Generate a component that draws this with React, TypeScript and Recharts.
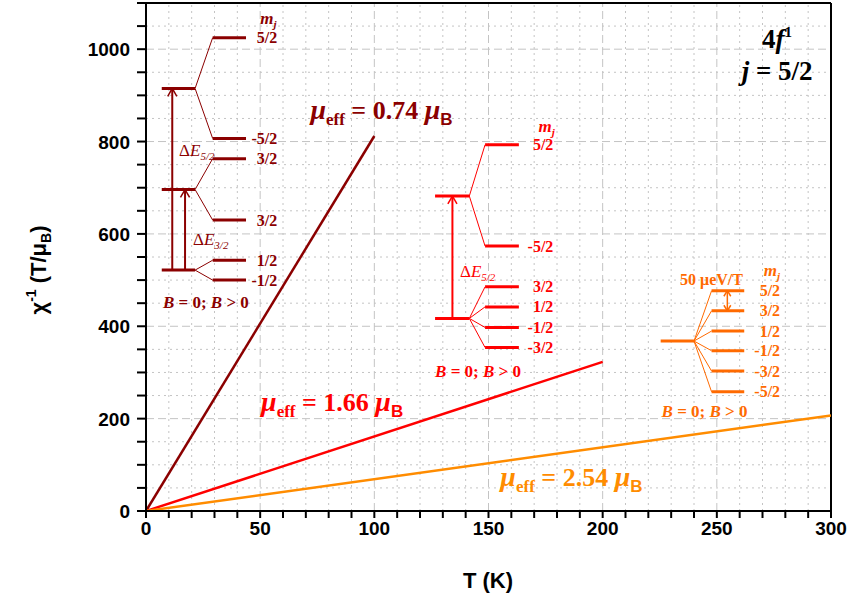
import React from 'react';
import { LineChart, Line, XAxis, YAxis, ReferenceLine, ReferenceDot } from 'recharts';

const DARK = '#8B0000';
const RED = '#FF0000';
const ORANGE_LINE = '#FF8C00';
const ORANGE = '#FF6A00';
const GRID = '#c4c4c4';
const SERIF = '"Liberation Serif", "Times New Roman", serif';
const SANS = '"Liberation Sans", Arial, sans-serif';

// ---- series (T in K, chi^-1 in T/muB) ----
const darkRedSeries = [{ T: 0, chi: 0 }, { T: 100, chi: 812 }];
const redSeries = [{ T: 0, chi: 0 }, { T: 200, chi: 323 }];
const orangeSeries = [{ T: 0, chi: 0 }, { T: 300, chi: 207 }];

// ---- ticks ----
const xMajorTicks = [0, 50, 100, 150, 200, 250, 300];
const xAllTicks = [0, 10, 20, 30, 40, 50, 60, 70, 80, 90, 100, 110, 120, 130, 140, 150, 160, 170, 180, 190, 200, 210, 220, 230, 240, 250, 260, 270, 280, 290, 300];
const yMajorTicks = [0, 200, 400, 600, 800, 1000];
const yAllTicks = [0, 50, 100, 150, 200, 250, 300, 350, 400, 450, 500, 550, 600, 650, 700, 750, 800, 850, 900, 950, 1000, 1050, 1100];
const xGridMajor = [50, 100, 150, 200, 250];
const xGridMinor = [10, 20, 30, 40, 60, 70, 80, 90, 110, 120, 130, 140, 160, 170, 180, 190, 210, 220, 230, 240, 260, 270, 280, 290];
const yGridMajor = [200, 400, 600, 800, 1000];
const yGridMinor = [50, 100, 150, 250, 300, 350, 450, 500, 550, 650, 700, 750, 850, 900, 950, 1050];

// ---- dark red level diagram ----
const dkBaseT = [6.9, 21.5];
const dkSplitT = [29.2, 43.8];
const dkBaseLevels = [915, 696, 521.6];
const dkSplitLevels = [1025, 806.6, 763, 630, 543, 500];
const dkSplitParents = [915, 915, 696, 696, 521.6, 521.6];
const dkSplitLabels = ['5/2', '-5/2', '3/2', '3/2', '1/2', '-1/2'];
const dkLabelT = 57.5;
const dkArrows = [{ t: 11.5, from: 521.6, to: 915 }, { t: 17.1, from: 521.6, to: 696 }];

// ---- red level diagram ----
const rdBaseT = [126.6, 141.6];
const rdSplitT = [148.5, 163.3];
const rdBaseLevels = [682, 417];
const rdSplitLevels = [793, 573.6, 485.5, 442, 397.5, 354];
const rdSplitParents = [682, 682, 417, 417, 417, 417];
const rdSplitLabels = ['5/2', '-5/2', '3/2', '1/2', '-1/2', '-3/2'];
const rdLabelT = 178.4;
const rdArrows = [{ t: 134.2, from: 417, to: 682 }];

// ---- orange level diagram ----
const orBaseT = [225.4, 240];
const orSplitT = [247.7, 262];
const orBaseLevels = [368];
const orSplitLevels = [477, 433.5, 389.6, 347, 303, 258];
const orSplitParents = [368, 368, 368, 368, 368, 368];
const orSplitLabels = ['5/2', '3/2', '1/2', '-1/2', '-3/2', '-5/2'];
const orLabelT = 277.7;
const orDoubleArrow = { t: 254.6, from: 433.5, to: 477 };

const seg = (key: string, x1: number, y1: number, x2: number, y2: number, color: string, w: number) => (
  <ReferenceLine
    key={key}
    segment={[{ x: x1, y: y1 }, { x: x2, y: y2 }]}
    stroke={color}
    strokeWidth={w}
    ifOverflow="visible"
  />
);

const textAt = (key: string, x: number, y: number, render: (cx: number, cy: number) => React.ReactElement) => (
  <ReferenceDot key={key} x={x} y={y} r={0} ifOverflow="visible" shape={(p: any) => render(p.cx, p.cy)} />
);

const arrowHead = (key: string, t: number, tip: number, dir: number, color: string, dx: number, dy: number) => [
  seg(key + 'a', t, tip, t - dx, tip - dir * dy, color, 1.5),
  seg(key + 'b', t, tip, t + dx, tip - dir * dy, color, 1.5),
];

const diagram = (
  id: string,
  color: string,
  baseT: number[],
  splitT: number[],
  base: number[],
  split: number[],
  parents: number[],
  labels: string[],
  labelT: number
) => {
  const out: React.ReactElement[] = [];
  base.forEach((v, i) => out.push(seg(`${id}b${i}`, baseT[0], v, baseT[1], v, color, 3)));
  split.forEach((v, i) => {
    out.push(seg(`${id}s${i}`, splitT[0], v, splitT[1], v, color, 3));
    out.push(seg(`${id}c${i}`, baseT[1], parents[i], splitT[0], v, color, 1));
    out.push(
      textAt(`${id}l${i}`, labelT, v, (cx, cy) => (
        <text x={cx} y={cy} dy={5.5} textAnchor="end" fill={color} fontFamily={SERIF} fontWeight="bold" fontSize={16}>
          {labels[i]}
        </text>
      ))
    );
  });
  return out;
};

const mjLabel = (key: string, t: number, v: number, color: string) =>
  textAt(key, t, v, (cx, cy) => (
    <text x={cx} y={cy} textAnchor="end" fill={color} fontFamily={SERIF} fontWeight="bold" fontStyle="italic" fontSize={17}>
      m<tspan fontSize={11} dy={4}>j</tspan>
    </text>
  ));

const bLabel = (key: string, t: number, v: number, color: string) =>
  textAt(key, t, v, (cx, cy) => (
    <text x={cx} y={cy} fill={color} fontFamily={SERIF} fontWeight="bold" fontSize={17}>
      <tspan fontStyle="italic">B</tspan> = 0; <tspan fontStyle="italic">B</tspan> &gt; 0
    </text>
  ));

const dELabel = (key: string, t: number, v: number, color: string, sub: string) =>
  textAt(key, t, v, (cx, cy) => (
    <text x={cx} y={cy} fill={color} fontFamily={SERIF} fontSize={17}>
      Δ<tspan fontStyle="italic">E</tspan>
      <tspan fontSize={11} dy={4} fontStyle="italic">{sub}</tspan>
    </text>
  ));

const muLabel = (key: string, t: number, v: number, color: string, val: string) =>
  textAt(key, t, v, (cx, cy) => (
    <text x={cx} y={cy} fill={color} fontFamily={SERIF} fontWeight="bold" fontSize={26}>
      <tspan fontStyle="italic" fontSize={28}>μ</tspan>
      <tspan fontSize={17} dy={6}>eff</tspan>
      <tspan dy={-6}>{` = ${val} `}</tspan>
      <tspan fontStyle="italic" fontSize={28}>μ</tspan>
      <tspan fontFamily={SANS} fontSize={17} dy={6}>B</tspan>
    </text>
  ));

const XTick = (props: any) => {
  const { x, y, payload } = props;
  const v = payload.value;
  return (
    <g>
      <line x1={x} x2={x} y1={y} y2={y + 7} stroke="#000" strokeWidth={2} />
      {xMajorTicks.includes(v) && (
        <text x={x} y={y + 24} textAnchor="middle" fill="#000" fontFamily={SANS} fontWeight="bold" fontSize={19}>
          {v}
        </text>
      )}
    </g>
  );
};

const YTick = (props: any) => {
  const { x, y, payload } = props;
  const v = payload.value;
  return (
    <g>
      <line x1={x - 9} x2={x} y1={y} y2={y} stroke="#000" strokeWidth={2} />
      {yMajorTicks.includes(v) && (
        <text x={x - 16} y={y} dy={7} textAnchor="end" fill="#000" fontFamily={SANS} fontWeight="bold" fontSize={19}>
          {v}
        </text>
      )}
    </g>
  );
};

const YTitle = () => (
  <text transform="translate(46,270) rotate(-90)" x={0} y={0} textAnchor="middle" fill="#000" fontFamily={SANS} fontWeight="bold" fontSize={22}>
    χ<tspan fontSize={14} dy={-10}>-1</tspan>
    <tspan dy={10}> (T/μ</tspan>
    <tspan fontSize={14} dy={5}>B</tspan>
    <tspan dy={-5}>)</tspan>
  </text>
);

const XTitle = () => (
  <text x={488} y={588} textAnchor="middle" fill="#000" fontFamily={SANS} fontWeight="bold" fontSize={22}>
    T (K)
  </text>
);

export default function App() {
  return (
    <div style={{ position: 'absolute', left: 0, top: 0, width: 849, height: 599, background: '#fff' }}>
      <LineChart width={849} height={599} margin={{ top: 3, right: 18, bottom: 0, left: 0 }}>
        <XAxis
          dataKey="T"
          type="number"
          domain={[0, 300]}
          ticks={xAllTicks}
          interval={0}
          height={88}
          tickSize={0}
          tickMargin={0}
          tickLine={false}
          axisLine={{ stroke: '#000', strokeWidth: 2 }}
          tick={XTick}
          allowDataOverflow
          label={<XTitle />}
        />
        <YAxis
          type="number"
          domain={[0, 1100]}
          ticks={yAllTicks}
          interval={0}
          width={146}
          tickSize={0}
          tickMargin={0}
          tickLine={false}
          axisLine={{ stroke: '#000', strokeWidth: 2 }}
          tick={YTick}
          allowDataOverflow
          label={<YTitle />}
        />
        {xGridMinor.map((v) => (
          <ReferenceLine key={`gxm${v}`} x={v} stroke={GRID} strokeWidth={1} strokeDasharray="2 4" />
        ))}
        {yGridMinor.map((v) => (
          <ReferenceLine key={`gym${v}`} y={v} stroke={GRID} strokeWidth={1} strokeDasharray="2 4" />
        ))}
        {xGridMajor.map((v) => (
          <ReferenceLine key={`gxM${v}`} x={v} stroke={GRID} strokeWidth={1} strokeDasharray="8 4" />
        ))}
        {yGridMajor.map((v) => (
          <ReferenceLine key={`gyM${v}`} y={v} stroke={GRID} strokeWidth={1} strokeDasharray="8 4" />
        ))}
        <ReferenceLine x={300} stroke="#000" strokeWidth={2} />
        <ReferenceLine y={1100} stroke="#000" strokeWidth={2} />

        <Line data={darkRedSeries} dataKey="chi" stroke={DARK} strokeWidth={2.5} dot={false} isAnimationActive={false} />
        <Line data={redSeries} dataKey="chi" stroke={RED} strokeWidth={2.5} dot={false} isAnimationActive={false} />
        <Line data={orangeSeries} dataKey="chi" stroke={ORANGE_LINE} strokeWidth={2.5} dot={false} isAnimationActive={false} />

        {diagram('dk', DARK, dkBaseT, dkSplitT, dkBaseLevels, dkSplitLevels, dkSplitParents, dkSplitLabels, dkLabelT)}
        {dkArrows.map((a, i) => seg(`dka${i}`, a.t, a.from, a.t, a.to, DARK, 2))}
        {dkArrows.map((a, i) => arrowHead(`dkh${i}`, a.t, a.to, 1, DARK, 2.0, 17))}
        {mjLabel('dkmj', 57.2, 1054, DARK)}
        {dELabel('dkde1', 14.5, 768, DARK, '5/2')}
        {dELabel('dkde2', 20.6, 576, DARK, '3/2')}
        {bLabel('dkb', 7.4, 439, DARK)}

        {diagram('rd', RED, rdBaseT, rdSplitT, rdBaseLevels, rdSplitLevels, rdSplitParents, rdSplitLabels, rdLabelT)}
        {rdArrows.map((a, i) => seg(`rda${i}`, a.t, a.from, a.t, a.to, RED, 2))}
        {rdArrows.map((a, i) => arrowHead(`rdh${i}`, a.t, a.to, 1, RED, 2.0, 17))}
        {mjLabel('rdmj', 179, 820, RED)}
        {dELabel('rdde', 137.5, 507, RED, '5/2')}
        {bLabel('rdb', 126.6, 291, RED)}

        {diagram('or', ORANGE, orBaseT, orSplitT, orBaseLevels, orSplitLevels, orSplitParents, orSplitLabels, orLabelT)}
        {seg('orda', orDoubleArrow.t, orDoubleArrow.from, orDoubleArrow.t, orDoubleArrow.to, ORANGE, 1.5)}
        {arrowHead('ordh1', orDoubleArrow.t, orDoubleArrow.to, 1, ORANGE, 1.5, 12)}
        {arrowHead('ordh2', orDoubleArrow.t, orDoubleArrow.from, -1, ORANGE, 1.5, 12)}
        {mjLabel('ormj', 277.7, 508.7, ORANGE)}
        {bLabel('orb', 225.8, 204, ORANGE)}
        {textAt('or50', 233.9, 489, (cx, cy) => (
          <text x={cx} y={cy} fill={ORANGE} fontFamily={SERIF} fontWeight="bold" fontSize={16}>
            50 μeV/T
          </text>
        ))}

        {muLabel('mu1', 72.0, 848.5, DARK, '0.74')}
        {muLabel('mu2', 50.4, 216.5, RED, '1.66')}
        {muLabel('mu3', 155.2, 54, ORANGE_LINE, '2.54')}

        {textAt('4f', 276.4, 1002, (cx, cy) => (
          <text x={cx} y={cy} textAnchor="middle" fill="#000" fontFamily={SERIF} fontWeight="bold" fontSize={27}>
            4<tspan fontStyle="italic">f</tspan>
            <tspan fontSize={15} dy={-11}>1</tspan>
          </text>
        ))}
        {textAt('j52', 276.4, 933, (cx, cy) => (
          <text x={cx} y={cy} textAnchor="middle" fill="#000" fontFamily={SERIF} fontWeight="bold" fontSize={27}>
            <tspan fontStyle="italic">j</tspan> = 5/2
          </text>
        ))}
      </LineChart>
    </div>
  );
}
